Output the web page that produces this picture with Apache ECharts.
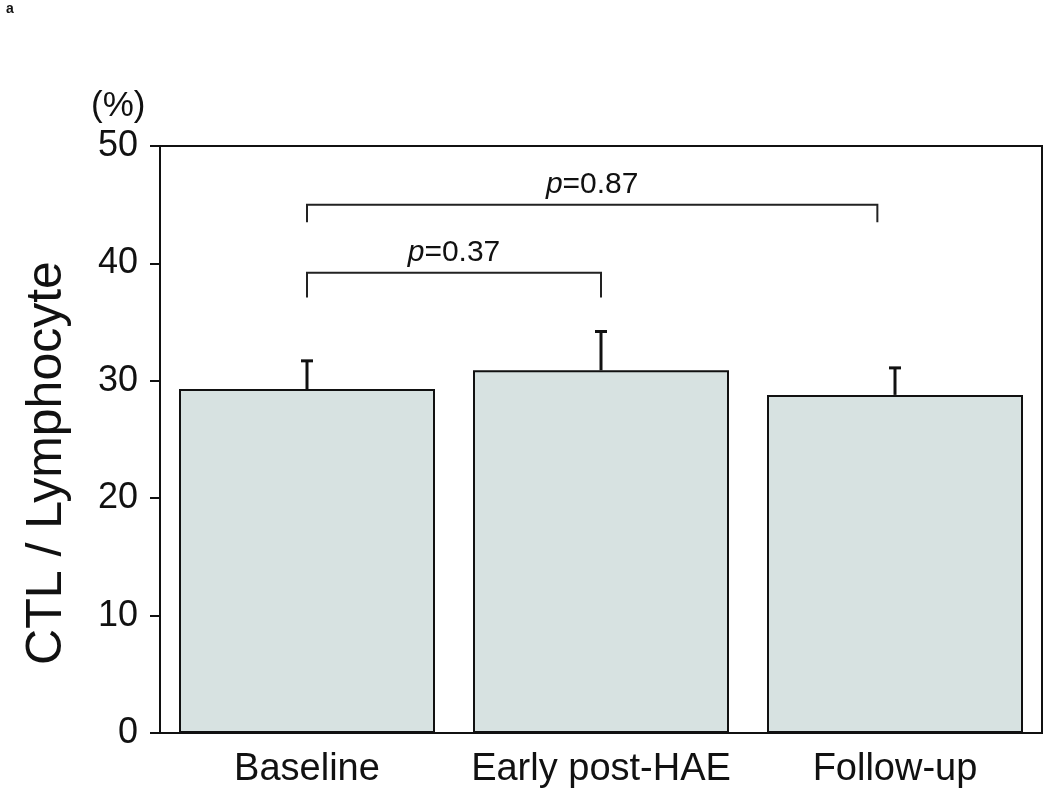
<!DOCTYPE html>
<html>
<head>
<meta charset="utf-8">
<script src="https://cdn.jsdelivr.net/npm/echarts@6/dist/echarts.min.js"></script>
<style>html,body{margin:0;padding:0;background:#fff;}#chart{width:1050px;height:798px;}</style>
</head>
<body>
<div id="chart"></div>
<script>
const categories = ['Baseline', 'Early post-HAE', 'Follow-up'];
const means = [29.3, 30.9, 28.8];
const errorTops = [31.7, 34.2, 31.1];
const yTicks = [0, 10, 20, 30, 40, 50];
// comparison brackets: from/to category index, bracket level, tip bottom level, label
const bracketFrom = [0, 0];
const bracketTo = [1, 2];
const bracketLevel = [39.2, 45.0];
const bracketTip = [37.1, 43.5];
const bracketLabel = ['0.37', '0.87'];

const chart = echarts.init(document.getElementById('chart'));
const FONT = '"Liberation Sans", Arial, sans-serif';

const option = {
  animation: false,
  backgroundColor: '#fff',
  title: {
    text: '(%)', left: 86, top: 84,
    textStyle: { fontFamily: FONT, fontSize: 35, fontWeight: 'normal', color: '#111' }
  },
  graphic: [
    {
      type: 'text', left: 6, top: 2,
      style: { text: 'a', font: 'bold 14px ' + FONT, fill: '#111' }
    },
    {
      type: 'text', x: 47, y: 463, rotation: Math.PI / 2,
      style: { text: 'CTL / Lymphocyte', font: '50px ' + FONT, fill: '#111', align: 'center', verticalAlign: 'middle' }
    }
  ],
  grid: {
    left: 160, right: 8, top: 146, bottom: 65,
    show: true, borderColor: '#111', borderWidth: 2, backgroundColor: 'transparent'
  },
  xAxis: {
    type: 'category', data: categories,
    axisLine: { lineStyle: { color: '#111', width: 2 } },
    axisTick: { show: false },
    axisLabel: { interval: 0, hideOverlap: false, fontFamily: FONT, fontSize: 38, color: '#111', margin: 18 }
  },
  yAxis: {
    type: 'value', min: yTicks[0], max: yTicks[yTicks.length - 1], interval: 10,
    axisLine: { show: true, lineStyle: { color: '#111', width: 2 } },
    axisTick: { show: true, length: 10, lineStyle: { color: '#111', width: 2 } },
    axisLabel: { fontFamily: FONT, fontSize: 36, color: '#111', margin: 22 },
    splitLine: { show: false }
  },
  series: [
    {
      type: 'bar', data: means, barWidth: 256,
      itemStyle: { color: '#d7e2e1', borderColor: '#111', borderWidth: 2 },
      z: 2
    },
    {
      type: 'custom',
      data: categories.map((c, i) => [i, means[i], errorTops[i]]),
      renderItem: function (params, api) {
        const base = api.coord([api.value(0), api.value(1)]);
        const top = api.coord([api.value(0), api.value(2)]);
        const cap = 6;
        return {
          type: 'group',
          children: [
            { type: 'line', shape: { x1: base[0], y1: base[1], x2: top[0], y2: top[1] }, style: { stroke: '#111', lineWidth: 3 } },
            { type: 'line', shape: { x1: top[0] - cap, y1: top[1], x2: top[0] + cap, y2: top[1] }, style: { stroke: '#111', lineWidth: 3 } }
          ]
        };
      },
      z: 3
    },
    {
      type: 'custom',
      data: bracketFrom.map((f, i) => [f, bracketTo[i], bracketLevel[i], bracketTip[i], i]),
      renderItem: function (params, api) {
        const i = api.value(4);
        const band = api.size([1, 0])[0];
        const a = api.coord([api.value(0), api.value(2)]);
        const b = api.coord([api.value(1), api.value(2)]);
        const tipY = api.coord([api.value(0), api.value(3)])[1];
        const x1 = a[0];
        const x2 = b[0] - (api.value(1) === 2 ? band * 0.06 : 0);
        const y = a[1];
        return {
          type: 'group',
          children: [
            { type: 'polyline', shape: { points: [[x1, tipY], [x1, y], [x2, y], [x2, tipY]] }, style: { stroke: '#222', lineWidth: 2, fill: null } },
            {
              type: 'text',
              style: {
                x: (x1 + x2) / 2, y: y - 5,
                text: '{i|p}=' + bracketLabel[i],
                align: 'center', verticalAlign: 'bottom',
                rich: { i: { fontStyle: 'italic', fontFamily: FONT, fontSize: 30, fill: '#111' } },
                font: '30px ' + FONT, fill: '#111'
              }
            }
          ]
        };
      },
      z: 4
    }
  ]
};
chart.setOption(option);
</script>
</body>
</html>
